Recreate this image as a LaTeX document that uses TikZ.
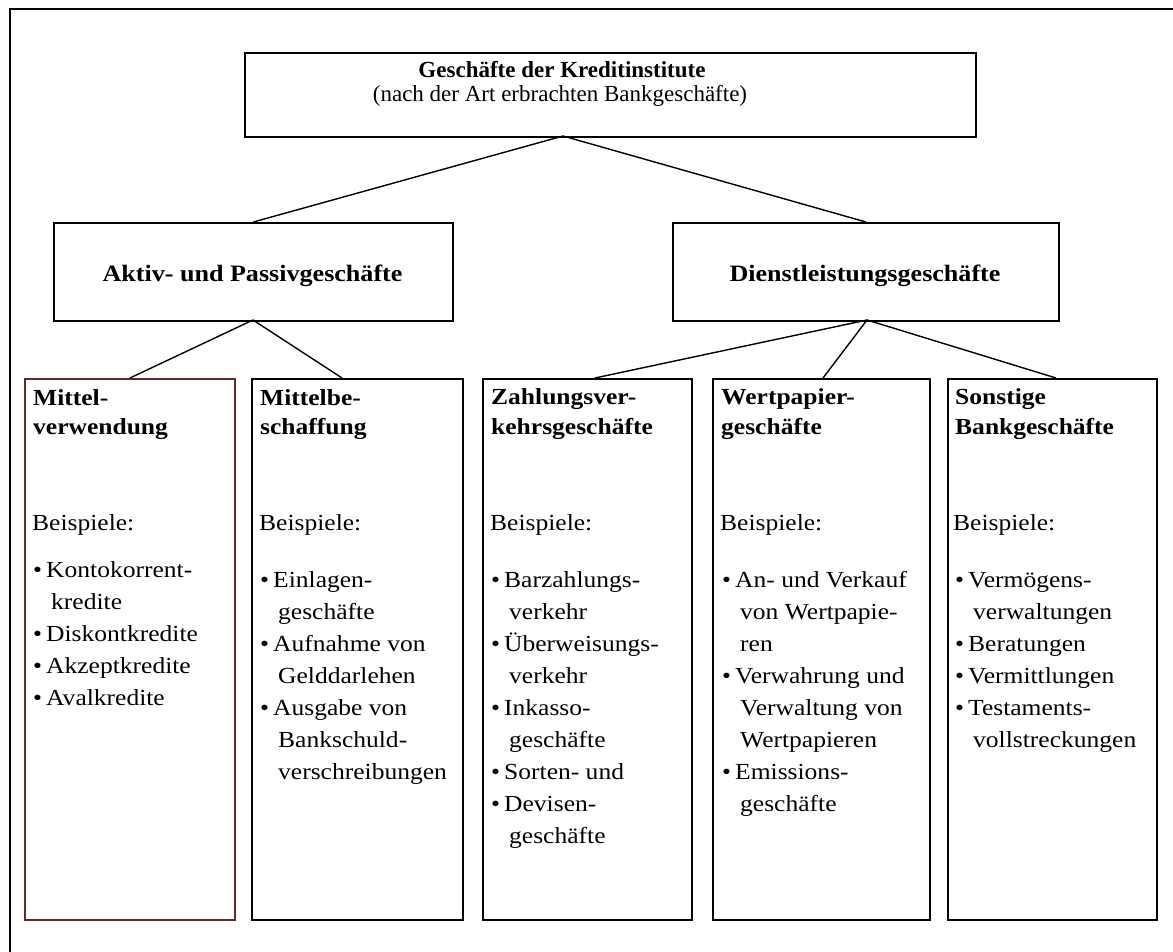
\documentclass[tikz,border=0pt]{standalone}
\usepackage{fontspec}
\setmainfont{Liberation Serif}
\newfontfamily\widefont{Liberation Serif}[FakeStretch=1.11]
\definecolor{maroonline}{RGB}{100,40,40}

% one bulleted line, a continuation line, and a top-aligned stack of lines
\newcommand\bl[1]{\hbox{\makebox[13pt][l]{\textbullet}#1}}
\newcommand\cl[1]{\hbox{\hspace*{18pt}#1}}
\newcommand\linestack[2]{\vtop{\baselineskip=#1\relax\lineskiplimit=-100pt #2}}

\tikzset{
  frameline/.style={line width=2pt},
  box/.style={draw, line width=1.8pt, rectangle, inner sep=0pt, anchor=north west, minimum height=#1},
  link/.style={line width=1.4pt},
  titletext/.style={inner sep=0pt, anchor=base, font=\fontsize{23}{24}\selectfont},
  midhead/.style={inner sep=0pt, anchor=base, font=\widefont\bfseries\fontsize{23.5}{24}\selectfont},
  bodytext/.style={inner sep=0pt, anchor=base west, font=\widefont\fontsize{23}{32}\selectfont},
  headtext/.style={inner sep=0pt, anchor=base west, font=\widefont\bfseries\fontsize{23}{29}\selectfont},
}

\begin{document}
\begin{tikzpicture}[x=1pt, y=-1pt]
\useasboundingbox (0,0) rectangle (1173,952);

% outer frame
\draw[frameline] (9.5,952) -- (9.5,9) -- (1173,9);

% top level
\node[box=83.5pt, minimum width=731pt] (top) at (244,52.5) {};
\node[titletext, font=\bfseries\fontsize{23}{24}\selectfont] (toptitle) at (562,78) {Geschäfte der Kreditinstitute};
\node[titletext] (topsub) at (560,102) {(nach der Art erbrachten Bankgeschäfte)};

% second level
\node[box=98pt, minimum width=399pt] (aktiv) at (53,222) {};
\node[midhead] (aktivtxt) at (252.5,282) {Aktiv- und Passivgeschäfte};
\node[box=98pt, minimum width=386pt] (dienst) at (672,222) {};
\node[midhead] (diensttxt) at (865,281) {Dienstleistungsgeschäfte};

% third level boxes
\node[box=541pt, minimum width=210pt, draw=maroonline] (mv) at (24,378) {};
\node[box=541pt, minimum width=211pt] (mb) at (251,378) {};
\node[box=541pt, minimum width=209pt] (zv) at (482,378) {};
\node[box=541pt, minimum width=217pt] (wp) at (712,378) {};
\node[box=541pt, minimum width=209pt] (sb) at (947,378) {};

% joints of the connectors
\coordinate (topjoin) at (563,136);
\coordinate (mvjoin) at (130,378);
\coordinate (mbjoin) at (342,378);
\coordinate (zvjoin) at (595,378);
\coordinate (wpjoin) at (823,378);
\coordinate (sbjoin) at (1056,378);
\coordinate (aktivjoin) at (253,320);
\coordinate (dienstjoin) at (867,320);

\draw[link] (topjoin) -- (aktiv.north);
\draw[link] (topjoin) -- (dienst.north);
\draw[link] (aktivjoin) -- (mvjoin);
\draw[link] (aktivjoin) -- (mbjoin);
\draw[link] (dienstjoin) -- (zvjoin);
\draw[link] (dienstjoin) -- (wpjoin);
\draw[link] (dienstjoin) -- (sbjoin);

% Mittelverwendung
\node[headtext] (mvhead) at (33,405) {\linestack{29pt}{\hbox{Mittel-}\hbox{verwendung}}};
\node[bodytext] (mvbsp) at (32,530) {Beispiele:};
\node[bodytext] (mvlist) at (33,577) {\linestack{32pt}{%
  \bl{Kontokorrent-}\cl{kredite}\bl{Diskontkredite}\bl{Akzeptkredite}\bl{Avalkredite}}};

% Mittelbeschaffung
\node[headtext] (mbhead) at (260,405) {\linestack{29pt}{\hbox{Mittelbe-}\hbox{schaffung}}};
\node[bodytext] (mbbsp) at (259,530) {Beispiele:};
\node[bodytext] (mblist) at (260,587) {\linestack{32pt}{%
  \bl{Einlagen-}\cl{geschäfte}\bl{Aufnahme von}\cl{Gelddarlehen}%
  \bl{Ausgabe von}\cl{Bankschuld-}\cl{verschreibungen}}};

% Zahlungsverkehrsgeschäfte
\node[headtext] (zvhead) at (491,404) {\linestack{30pt}{\hbox{Zahlungsver-}\hbox{kehrsgeschäfte}}};
\node[bodytext] (zvbsp) at (490,530) {Beispiele:};
\node[bodytext] (zvlist) at (491,587) {\linestack{32pt}{%
  \bl{Barzahlungs-}\cl{verkehr}\bl{Überweisungs-}\cl{verkehr}%
  \bl{Inkasso-}\cl{geschäfte}\bl{Sorten- und}\bl{Devisen-}\cl{geschäfte}}};

% Wertpapiergeschäfte
\node[headtext] (wphead) at (721,404) {\linestack{30pt}{\hbox{Wertpapier-}\hbox{geschäfte}}};
\node[bodytext] (wpbsp) at (720,530) {Beispiele:};
\node[bodytext] (wplist) at (722,587) {\linestack{32pt}{%
  \bl{An- und Verkauf}\cl{von Wertpapie-}\cl{ren}%
  \bl{Verwahrung und}\cl{Verwaltung von}\cl{Wertpapieren}%
  \bl{Emissions-}\cl{geschäfte}}};

% Sonstige Bankgeschäfte
\node[headtext] (sbhead) at (955,404) {\linestack{30pt}{\hbox{Sonstige}\hbox{Bankgeschäfte}}};
\node[bodytext] (sbbsp) at (953,530) {Beispiele:};
\node[bodytext] (sblist) at (955,587) {\linestack{32pt}{%
  \bl{Vermögens-}\cl{verwaltungen}\bl{Beratungen}\bl{Vermittlungen}%
  \bl{Testaments-}\cl{vollstreckungen}}};
\end{tikzpicture}
\end{document}
